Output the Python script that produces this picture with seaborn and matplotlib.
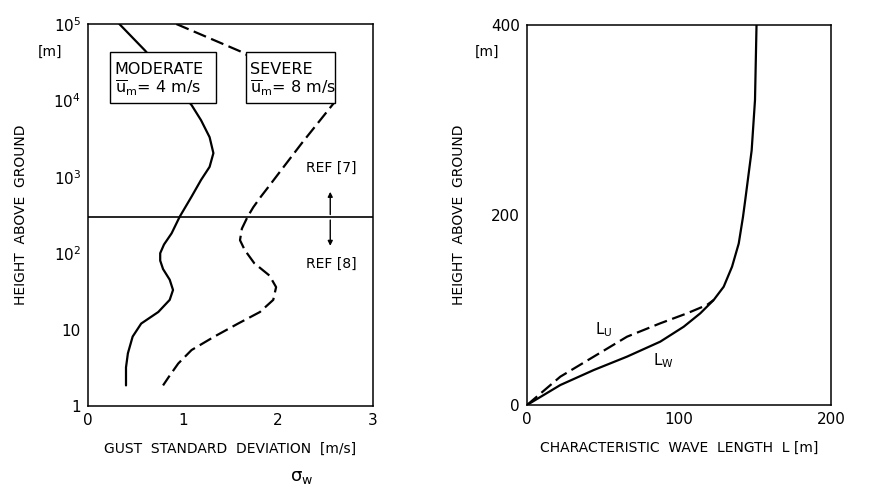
import matplotlib
matplotlib.use("Agg")
import matplotlib.pyplot as plt
import matplotlib.ticker as mticker
from matplotlib.patches import Rectangle
import seaborn as sns
import pandas as pd

# ---------------- data ----------------
# Left panel: gust standard deviation profiles (sigma_w [m/s] vs height [m])
mod_sigma = [0.33, 0.60, 1.09, 1.19, 1.28, 1.32, 1.28, 1.19, 1.09, 0.965, 0.88, 0.80,
             0.76, 0.76, 0.79, 0.86, 0.895, 0.86, 0.74, 0.56, 0.47, 0.42, 0.40, 0.40]
mod_height = [100000, 45000, 8700, 5500, 3300, 2040, 1350, 910, 550, 300, 182, 130,
              100, 80, 62, 45, 33, 24.5, 17, 12, 8.1, 4.9, 3.2, 1.86]
sev_sigma = [0.93, 1.60, 2.59, 2.25, 2.06, 1.90, 1.82, 1.74, 1.68, 1.62, 1.60, 1.65,
             1.75, 1.91, 1.98, 1.95, 1.81, 1.58, 1.33, 1.09, 0.95, 0.85, 0.79]
sev_height = [100000, 44000, 9300, 2750, 1350, 740, 550, 400, 300, 210, 148, 110,
              74, 51, 36, 24.5, 17, 12, 8.1, 5.4, 3.6, 2.4, 1.86]
ref_boundary_height = 300
left_yticks = [1, 10, 100, 1000, 10000, 100000]
left_yticklabels = ["1", "10", r"$10^2$", r"$10^3$", r"$10^4$", r"$10^5$"]
left_xticks = [0, 1, 2, 3]

# Right panel: characteristic wave lengths (L [m] vs height [m])
lw_L = [0, 21.9, 43.9, 65.8, 87.7, 103.1, 114, 122.8, 129.4, 134.9, 139.3, 142.1,
        143.6, 147.8, 150, 151]
lw_H = [0, 21, 36.8, 50.9, 66.7, 82.4, 96.5, 110.5, 124.5, 145.6, 170, 198,
        216, 268, 321, 400]
lu_L = [0, 21.9, 43.9, 65.8, 87.7, 105.3, 118.4, 122.8]
lu_H = [0, 29.8, 50.9, 71.9, 86, 96.5, 105.3, 110.5]
right_xticks = [0, 100, 200]
right_yticks = [0, 200, 400]

# ---------------- style ----------------
sns.set_style("white")
plt.rcParams["font.family"] = ["DejaVu Sans"]
plt.rcParams["mathtext.default"] = "regular"
plt.rcParams["axes.linewidth"] = 1.1
plt.rcParams["text.color"] = "black"
plt.rcParams["axes.labelcolor"] = "black"

fig = plt.figure(figsize=(8.93, 4.88), dpi=100)
axL = fig.add_axes([88 / 893, (488 - 406) / 488, 285 / 893, 382 / 488])
axR = fig.add_axes([527 / 893, (488 - 405) / 488, 304 / 893, 380 / 488])

dash = (0, (6, 2.5))
lwid = 1.6
line_kw = dict(sort=False, estimator=None, color="black", linewidth=lwid,
               solid_joinstyle="round", dash_joinstyle="round")

# ---------------- left panel ----------------
axL.set_yscale("log")
df_mod = pd.DataFrame({"sigma": mod_sigma, "h": mod_height})
df_sev = pd.DataFrame({"sigma": sev_sigma, "h": sev_height})
sns.lineplot(data=df_mod, x="sigma", y="h", ax=axL, zorder=2, **line_kw)
sns.lineplot(data=df_sev, x="sigma", y="h", linestyle=dash, ax=axL, zorder=2, **line_kw)
axL.axhline(ref_boundary_height, color="black", linewidth=1.2, zorder=2)

axL.set_xlim(0, 3)
axL.set_ylim(1, 100000)
axL.set_yticks(left_yticks)
axL.yaxis.set_major_formatter(mticker.FixedFormatter(left_yticklabels))
axL.yaxis.set_minor_locator(mticker.NullLocator())
axL.set_xticks(left_xticks)
axL.set_xticklabels([str(t) for t in left_xticks])
axL.tick_params(axis="both", direction="in", length=5, width=1, labelsize=11,
                colors="black", pad=5)
axL.set_xlabel("GUST  STANDARD  DEVIATION  [m/s]", fontsize=10, labelpad=10)
axL.set_ylabel("HEIGHT  ABOVE  GROUND", fontsize=10, labelpad=18)
axL.text(-0.09, 10 ** 4.64, "[m]", fontsize=10, ha="right", va="center",
         transform=axL.get_yaxis_transform())
axL.text(0.75, -0.185, r"$\sigma_w$", fontsize=13, ha="center", va="center",
         transform=axL.transAxes)

# boxes
for (x0, x1, title, sub) in [(0.23, 1.35, "MODERATE", r"$\overline{u}_m$= 4 m/s"),
                             (1.66, 2.60, "SEVERE", r"$\overline{u}_m$= 8 m/s")]:
    rect = Rectangle((x0, 10 ** 3.97), x1 - x0, 10 ** 4.64 - 10 ** 3.97,
                     facecolor="white", edgecolor="black", linewidth=1.0, zorder=3)
    axL.add_patch(rect)
    axL.text(x0 + 0.05, 10 ** 4.40, title, fontsize=11.5, ha="left", va="center", zorder=4)
    axL.text(x0 + 0.05, 10 ** 4.16, sub, fontsize=11.5, ha="left", va="center", zorder=4)

axL.text(2.56, 10 ** 3.12, "REF [7]", fontsize=10, ha="center", va="center")
axL.text(2.56, 10 ** 1.86, "REF [8]", fontsize=10, ha="center", va="center")
axL.annotate("", xy=(2.55, 10 ** 2.84), xytext=(2.55, 10 ** 2.47),
             arrowprops=dict(arrowstyle="-|>", color="black", lw=1, mutation_scale=7))
axL.annotate("", xy=(2.55, 10 ** 2.06), xytext=(2.55, 10 ** 2.47),
             arrowprops=dict(arrowstyle="-|>", color="black", lw=1, mutation_scale=7))

# ---------------- right panel ----------------
df_lw = pd.DataFrame({"L": lw_L, "H": lw_H})
df_lu = pd.DataFrame({"L": lu_L, "H": lu_H})
sns.lineplot(data=df_lw, x="L", y="H", ax=axR, **line_kw)
sns.lineplot(data=df_lu, x="L", y="H", linestyle=dash, ax=axR, **line_kw)
axR.set_xlim(0, 200)
axR.set_ylim(0, 400)
axR.set_xticks(right_xticks)
axR.set_yticks(right_yticks)
axR.tick_params(axis="both", direction="in", length=5, width=1, labelsize=11,
                colors="black", pad=5)
axR.set_xlabel("CHARACTERISTIC  WAVE  LENGTH  L [m]", fontsize=10, labelpad=10)
axR.set_ylabel("HEIGHT  ABOVE  GROUND", fontsize=10, labelpad=18)
axR.text(-0.09, 372, "[m]", fontsize=10, ha="right", va="center",
         transform=axR.get_yaxis_transform())
axR.text(50.5, 79, r"L$_U$", fontsize=11, ha="center", va="center")
axR.text(90, 47, r"L$_W$", fontsize=11, ha="center", va="center")

for ax in (axL, axR):
    for s in ax.spines.values():
        s.set_visible(True)
        s.set_color("black")

fig.savefig("out.png", dpi=100)
